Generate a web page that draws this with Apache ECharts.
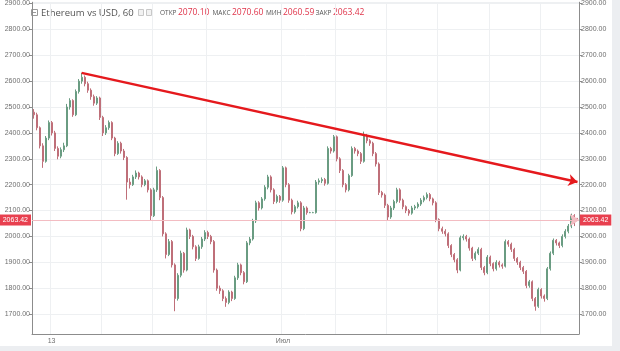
<!DOCTYPE html>
<html>
<head>
<meta charset="utf-8">
<script src="https://cdn.jsdelivr.net/npm/echarts/dist/echarts.min.js"></script>
<style>
  html, body { margin: 0; padding: 0; background: #ffffff; }
  #chart { width: 620px; height: 351px; }
</style>
</head>
<body>
<div id="chart"></div>
<script>
// ETH/USD, 60 мин — свечи [open, close, low, high]
const candles = [
  [2480, 2470, 2455, 2492], [2470, 2420, 2410, 2478], [2420, 2350, 2340, 2425], [2350, 2290, 2265, 2360],
  [2290, 2380, 2285, 2388], [2380, 2440, 2372, 2448], [2440, 2400, 2390, 2446], [2400, 2340, 2330, 2408],
  [2340, 2310, 2298, 2348], [2310, 2335, 2302, 2344], [2335, 2350, 2326, 2362], [2350, 2500, 2345, 2512],
  [2500, 2525, 2490, 2534], [2525, 2470, 2462, 2530], [2470, 2560, 2465, 2568], [2560, 2600, 2552, 2608],
  [2600, 2615, 2590, 2632], [2615, 2590, 2580, 2622], [2590, 2565, 2555, 2598], [2565, 2540, 2528, 2572],
  [2540, 2515, 2505, 2548], [2515, 2535, 2508, 2542], [2535, 2460, 2450, 2540], [2460, 2400, 2388, 2466],
  [2400, 2420, 2392, 2430], [2420, 2440, 2412, 2448], [2440, 2380, 2372, 2445], [2380, 2320, 2310, 2385],
  [2320, 2360, 2315, 2368], [2360, 2330, 2320, 2366], [2330, 2305, 2295, 2338], [2305, 2210, 2142, 2310],
  [2210, 2200, 2185, 2225], [2200, 2230, 2195, 2238], [2230, 2245, 2222, 2255], [2245, 2230, 2220, 2250],
  [2230, 2200, 2190, 2236], [2200, 2215, 2194, 2222], [2215, 2180, 2170, 2220], [2180, 2080, 2060, 2186],
  [2080, 2180, 2075, 2188], [2180, 2255, 2172, 2270], [2255, 2150, 2140, 2260], [2150, 2010, 2000, 2156],
  [2010, 1930, 1915, 2016], [1930, 1980, 1924, 1990], [1980, 1890, 1880, 1986], [1890, 1760, 1711, 1896],
  [1760, 1850, 1752, 1858], [1850, 1935, 1842, 1945], [1935, 1870, 1860, 1940], [1870, 2025, 1865, 2034],
  [2025, 2000, 1990, 2030], [2000, 1960, 1950, 2006], [1960, 1915, 1905, 1966], [1915, 1960, 1910, 1968],
  [1960, 1990, 1952, 1998], [1990, 2015, 1982, 2024], [2015, 2000, 1990, 2022], [2000, 1980, 1970, 2006],
  [1980, 1870, 1860, 1986], [1870, 1800, 1790, 1876], [1800, 1790, 1778, 1810], [1790, 1760, 1750, 1796],
  [1760, 1745, 1728, 1768], [1745, 1785, 1738, 1792], [1785, 1760, 1750, 1790], [1760, 1840, 1755, 1848],
  [1840, 1890, 1832, 1898], [1890, 1860, 1850, 1895], [1860, 1825, 1815, 1866], [1825, 1975, 1820, 1982],
  [1975, 1990, 1966, 1998], [1990, 2060, 1984, 2068], [2060, 2130, 2052, 2138], [2130, 2110, 2100, 2136],
  [2110, 2145, 2104, 2152], [2145, 2190, 2138, 2198], [2190, 2230, 2182, 2238], [2230, 2180, 2170, 2236],
  [2180, 2135, 2125, 2186], [2135, 2155, 2128, 2162], [2155, 2140, 2130, 2160], [2140, 2265, 2134, 2272],
  [2265, 2200, 2190, 2270], [2200, 2140, 2130, 2206], [2140, 2095, 2085, 2146], [2095, 2115, 2088, 2122],
  [2115, 2130, 2108, 2138], [2130, 2030, 2020, 2136], [2030, 2110, 2024, 2118], [2110, 2092, 2084, 2116],
  [2092, 2092, 2090, 2095], [2092, 2092, 2090, 2095], [2092, 2210, 2088, 2218], [2210, 2215, 2200, 2224],
  [2215, 2220, 2206, 2228], [2220, 2205, 2196, 2226], [2205, 2340, 2200, 2348], [2340, 2330, 2320, 2346],
  [2330, 2385, 2324, 2392], [2385, 2300, 2290, 2390], [2300, 2255, 2245, 2306], [2255, 2200, 2190, 2260],
  [2200, 2180, 2170, 2206], [2180, 2235, 2174, 2242], [2235, 2340, 2230, 2348], [2340, 2330, 2320, 2346],
  [2330, 2320, 2310, 2336], [2320, 2290, 2280, 2326], [2290, 2390, 2285, 2405], [2390, 2370, 2360, 2396],
  [2370, 2360, 2350, 2376], [2360, 2320, 2310, 2366], [2320, 2280, 2270, 2326], [2280, 2170, 2160, 2286],
  [2170, 2160, 2150, 2176], [2160, 2120, 2110, 2166], [2120, 2075, 2060, 2126], [2075, 2110, 2068, 2118],
  [2110, 2135, 2102, 2142], [2135, 2180, 2128, 2188], [2180, 2140, 2130, 2186], [2140, 2115, 2105, 2146],
  [2115, 2100, 2090, 2120], [2100, 2090, 2080, 2106], [2090, 2110, 2084, 2118], [2110, 2115, 2102, 2122],
  [2115, 2125, 2108, 2132], [2125, 2140, 2118, 2148], [2140, 2150, 2132, 2158], [2150, 2162, 2143, 2170],
  [2162, 2145, 2136, 2168], [2145, 2130, 2120, 2150], [2130, 2065, 2055, 2136], [2065, 2030, 2020, 2070],
  [2030, 2020, 2010, 2038], [2020, 2010, 2000, 2028], [2010, 1965, 1955, 2016], [1965, 1930, 1920, 1970],
  [1930, 1910, 1900, 1936], [1910, 1870, 1858, 1916], [1870, 1995, 1865, 2003], [1995, 2000, 1985, 2008],
  [2000, 1990, 1980, 2006], [1990, 1955, 1945, 1996], [1955, 1915, 1905, 1960], [1915, 1935, 1908, 1942],
  [1935, 1950, 1928, 1958], [1950, 1880, 1870, 1956], [1880, 1860, 1850, 1886], [1860, 1920, 1854, 1928],
  [1920, 1895, 1885, 1926], [1895, 1875, 1865, 1900], [1875, 1900, 1868, 1908], [1900, 1890, 1880, 1906],
  [1890, 1885, 1875, 1896], [1885, 1980, 1880, 1988], [1980, 1970, 1960, 1986], [1970, 1950, 1940, 1976],
  [1950, 1915, 1905, 1956], [1915, 1900, 1890, 1920], [1900, 1880, 1870, 1906], [1880, 1865, 1855, 1886],
  [1865, 1810, 1800, 1870], [1810, 1825, 1802, 1832], [1825, 1760, 1750, 1830], [1760, 1730, 1713, 1766],
  [1730, 1795, 1724, 1802], [1795, 1770, 1760, 1800], [1770, 1760, 1748, 1776], [1760, 1875, 1754, 1882],
  [1875, 1935, 1868, 1942], [1935, 1985, 1928, 1992], [1985, 1975, 1965, 1990], [1975, 1965, 1955, 1980],
  [1965, 2000, 1958, 2008], [2000, 2020, 1992, 2028], [2020, 2040, 2012, 2048], [2040, 2080, 2032, 2088],
  [2080, 2050, 2040, 2086], [2070.10, 2063.42, 2060.59, 2070.60]
];

// подписи оси времени (индекс свечи -> текст)
const tickIdx = [6, 23, 40, 58, 83, 101, 118, 135, 152, 169];
const tickLabels = ['13', '', '', '', 'Июл', '', '', '', '', ''];

// линия тренда: [индекс свечи, цена]
const trendLine = [[16, 2632], [181, 2210]];

const headerLabels = ['ОТКР', 'МАКС', 'МИН', 'ЗАКР'];
const last = candles[candles.length - 1];
const headerValues = [last[0], last[3], last[2], last[1]];
const lastClose = last[1];

const categories = candles.map((c, i) => {
  const k = tickIdx.indexOf(i);
  return k >= 0 ? tickLabels[k] : '';
});
const isTick = (i) => tickIdx.indexOf(i) >= 0;

const chart = echarts.init(document.getElementById('chart'));

const axisFont = { color: '#6f6f6f', fontSize: 7, fontFamily: 'Liberation Sans' };
const yAxisBase = {
  type: 'value',
  min: 1623,
  max: 2905,
  minInterval: 100,
  maxInterval: 100,
  axisLine: { show: true, lineStyle: { color: '#8c8c8c' } },
  axisTick: { show: true, length: 3, lineStyle: { color: '#8c8c8c' } },
  splitLine: { show: true, lineStyle: { color: '#eef0f2' } },
  axisLabel: Object.assign({ margin: 2, showMinLabel: false, showMaxLabel: false,
    formatter: v => v.toFixed(2) }, axisFont)
};

// шапка как в TradingView
const header = [];
header.push({ type: 'rect', shape: { x: 31.5, y: 9.5, width: 6, height: 6 },
  style: { fill: 'none', stroke: '#9a9a9a', lineWidth: 1 } });
header.push({ type: 'line', shape: { x1: 33, y1: 12.5, x2: 36, y2: 12.5 },
  style: { stroke: '#9a9a9a', lineWidth: 1 } });
header.push({ type: 'text', x: 41, y: 13, style: { text: 'Ethereum vs USD, 60', fill: '#555',
  fontSize: 9.5, fontFamily: 'Open Sans', verticalAlign: 'middle' } });
header.push({ type: 'text', x: 127, y: 12, style: { text: '~', fill: '#aaa',
  fontSize: 8, fontFamily: 'Open Sans', verticalAlign: 'middle' } });
header.push({ type: 'rect', shape: { x: 138.5, y: 9.5, width: 5, height: 6 },
  style: { fill: '#f2f2f2', stroke: '#c8c8c8', lineWidth: 1 } });
header.push({ type: 'rect', shape: { x: 146.5, y: 9.5, width: 5, height: 6 },
  style: { fill: '#f2f2f2', stroke: '#c8c8c8', lineWidth: 1 } });
const valueX = [178, 232, 283, 333];
headerLabels.forEach((lab, k) => {
  header.push({ type: 'text', x: valueX[k] - 1.5, y: 13, style: { text: lab, fill: '#555', fontSize: 6.5,
    fontFamily: 'Open Sans', verticalAlign: 'middle', align: 'right' } });
  header.push({ type: 'text', x: valueX[k], y: 13, style: {
    text: headerValues[k].toFixed(2), fill: '#e0354b', fontSize: 8.5,
    fontFamily: 'Open Sans', verticalAlign: 'middle' } });
});
// серые поля по краям скриншота
header.push({ type: 'rect', shape: { x: 612, y: 0, width: 8, height: 351 }, style: { fill: '#eceef1' } });
header.push({ type: 'rect', shape: { x: 0, y: 346, width: 620, height: 5 }, style: { fill: '#eceef1' } });

const priceLabel = {
  show: true,
  formatter: lastClose.toFixed(2),
  color: '#fff',
  backgroundColor: '#e8404f',
  padding: [2, 3],
  fontSize: 7,
  fontFamily: 'Liberation Sans',
  distance: 1
};

chart.setOption({
  animation: false,
  backgroundColor: '#ffffff',
  grid: { left: 32, right: 41, top: 0, bottom: 17 },
  graphic: header,
  xAxis: {
    type: 'category',
    data: categories,
    boundaryGap: true,
    axisLine: { lineStyle: { color: '#8c8c8c' } },
    axisTick: { alignWithLabel: true, length: 3, interval: isTick, lineStyle: { color: '#8c8c8c' } },
    splitLine: { show: true, interval: isTick, lineStyle: { color: '#eef0f2' } },
    axisLabel: Object.assign({ interval: isTick, margin: 4 }, axisFont)
  },
  yAxis: [
    Object.assign({ position: 'left' }, yAxisBase),
    Object.assign({}, yAxisBase, { position: 'right', splitLine: { show: false } })
  ],
  series: [{
    type: 'candlestick',
    data: candles,
    barWidth: '50%',
    itemStyle: {
      color: '#72a98c', color0: '#cf7c86',
      borderColor: '#6a9c82', borderColor0: '#bf6f79', borderWidth: 1
    },
    markLine: {
      silent: true,
      animation: false,
      symbol: ['none', 'arrow'],
      symbolSize: [9, 9],
      data: [
        { yAxis: lastClose, symbol: 'none', lineStyle: { color: '#f3bcc2', width: 1, type: 'solid' },
          label: Object.assign({ position: 'start' }, priceLabel) },
        { yAxis: lastClose, symbol: 'none', lineStyle: { color: '#f3bcc2', width: 1, type: 'solid' },
          label: Object.assign({ position: 'end' }, priceLabel) },
        [
          { coord: trendLine[0], lineStyle: { color: '#e5191d', width: 2.5, type: 'solid' }, label: { show: false } },
          { coord: trendLine[1] }
        ]
      ]
    }
  }]
});
</script>
</body>
</html>
